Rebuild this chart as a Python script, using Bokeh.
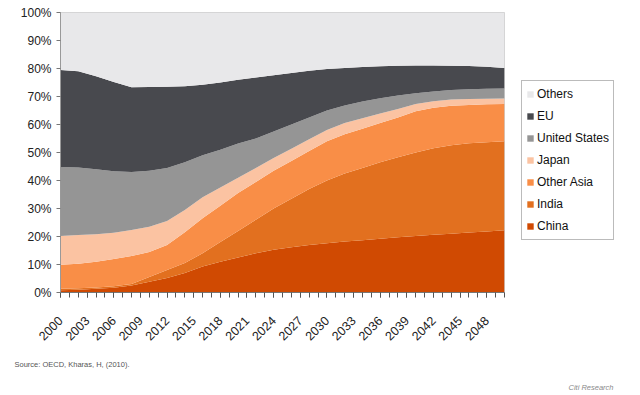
import numpy as np
from math import pi
from bokeh.plotting import figure
from bokeh.models import (ColumnDataSource, Legend, LegendItem, FixedTicker,
                          NumeralTickFormatter, Range1d, Title)
from bokeh.embed import file_html
from bokeh.resources import INLINE

# ---- data (share of global middle class consumption, %) ----
years = list(range(2000, 2051, 2))
china = [0.8, 1.0, 1.3, 1.7, 2.5, 3.8, 5.2, 7.0, 9.3, 11.0, 12.5, 14.0, 15.3,
         16.2, 17.0, 17.6, 18.2, 18.7, 19.2, 19.7, 20.2, 20.6, 21.0, 21.4, 21.8, 22.2]
india = [0.5, 0.5, 0.5, 0.5, 0.5, 1.7, 2.8, 3.5, 4.7, 7.0, 9.5, 12.0, 14.7,
         17.3, 20.0, 22.4, 24.3, 25.8, 27.3, 28.6, 29.8, 30.9, 31.6, 31.9, 31.9, 31.8]
other_asia = [8.6, 8.8, 9.2, 9.8, 10.0, 9.0, 9.0, 11.0, 12.5, 13.0, 13.5, 13.5, 13.5,
              13.5, 13.5, 14.0, 14.0, 14.0, 14.0, 14.2, 14.7, 14.5, 14.1, 13.7, 13.5, 13.3]
japan = [10.3, 10.2, 9.8, 9.3, 9.3, 9.0, 8.5, 8.0, 7.5, 6.5, 5.5, 5.0, 4.5,
         4.3, 4.2, 4.0, 4.0, 3.7, 3.4, 3.0, 2.6, 2.3, 2.2, 2.1, 2.0, 2.0]
united_states = [24.6, 24.1, 23.2, 22.0, 20.7, 20.0, 19.0, 17.0, 15.0, 13.5, 12.2, 10.5, 9.5,
                 8.7, 7.8, 7.0, 6.3, 6.0, 5.5, 4.9, 3.9, 3.5, 3.4, 3.5, 3.6, 3.6]
eu = [34.7, 34.4, 33.2, 31.9, 30.3, 29.9, 29.0, 27.2, 25.2, 24.0, 22.8, 21.8, 20.1,
      18.4, 16.7, 14.8, 13.4, 12.3, 11.4, 10.6, 9.9, 9.3, 8.7, 8.3, 7.8, 7.3]

series_names = ["China", "India", "Other Asia", "Japan", "United States", "EU", "Others"]
series_colors = ["#d04a02", "#e2701f", "#f98e47", "#fbc3a2", "#959595", "#48494e", "#e8e8ea"]
x_tick_labels = list(range(2000, 2049, 3))
y_ticks = list(range(0, 101, 10))

# ---- build source ----
parts = [china, india, other_asia, japan, united_states, eu]
arr = np.array(parts, dtype=float)
others = 100.0 - arr.sum(axis=0)
data = {"year": years}
for name, vals in zip(series_names, list(arr) + [others]):
    data[name] = np.asarray(vals) / 100.0
source = ColumnDataSource(data)

p = figure(frame_width=444, frame_height=280, output_backend="svg", toolbar_location=None,
           x_range=Range1d(2000, 2050), y_range=Range1d(0, 1),
           min_border_left=60, min_border_right=8, min_border_top=12,
           min_border_bottom=87)
p.background_fill_color = "white"
p.border_fill_color = "white"
p.outline_line_color = "#cfcfcf"
p.xgrid.visible = False
p.ygrid.visible = False

renderers = p.varea_stack(stackers=series_names, x="year", color=series_colors,
                          source=source)

# axes
p.yaxis.ticker = FixedTicker(ticks=[t / 100 for t in y_ticks])
p.yaxis.formatter = NumeralTickFormatter(format="0%")
p.yaxis.major_label_text_font = "Liberation Sans"
p.yaxis.major_label_text_font_size = "12px"
p.yaxis.major_label_text_color = "#222222"
p.yaxis.major_tick_in = 0
p.yaxis.major_tick_out = 4
p.yaxis.minor_tick_out = 0
p.yaxis.minor_tick_in = 0
p.yaxis.axis_line_color = "#999999"
p.yaxis.major_tick_line_color = "#777777"
p.yaxis.major_label_standoff = 5

p.xaxis.ticker = FixedTicker(ticks=x_tick_labels, minor_ticks=list(range(2000, 2051)))
p.xaxis.major_label_orientation = pi / 4
p.xaxis.major_label_text_font = "Liberation Sans"
p.xaxis.major_label_text_font_size = "12.5px"
p.xaxis.major_label_text_color = "#222222"
p.xaxis.major_tick_in = 0
p.xaxis.major_tick_out = 5
p.xaxis.minor_tick_in = 0
p.xaxis.minor_tick_out = 5
p.xaxis.axis_line_color = "#777777"
p.xaxis.major_tick_line_color = "#555555"
p.xaxis.minor_tick_line_color = "#555555"
p.xaxis.major_label_standoff = 21

# legend (top item = Others), placed in the right panel
items = [LegendItem(label=n, renderers=[r]) for n, r in zip(series_names, renderers)]
legend = Legend(items=list(reversed(items)), location=(17, 52),
                label_text_font="Liberation Sans", label_text_font_size="12px",
                label_text_color="#111111", glyph_width=8, glyph_height=8,
                label_height=18, spacing=4, padding=4, margin=9,
                label_standoff=3, border_line_color="#777777",
                border_line_width=1, background_fill_alpha=1.0)
p.add_layout(legend, "right")

src_title = Title(text="Source: OECD, Kharas, H, (2010).", align="left", offset=-46,
                  text_font_size="7.5px", text_font="Liberation Sans Narrow, Liberation Sans",
                  text_font_style="normal", text_color="#555555", standoff=20)
citi_title = Title(text="Citi Research", align="right", offset=-109,
                   text_font_size="7.5px", text_font="Liberation Sans",
                   text_font_style="italic", text_color="#8a8a8a", standoff=5)
p.add_layout(src_title, "below")
p.add_layout(citi_title, "below")

open("out.html", "w").write(file_html(p, INLINE))
